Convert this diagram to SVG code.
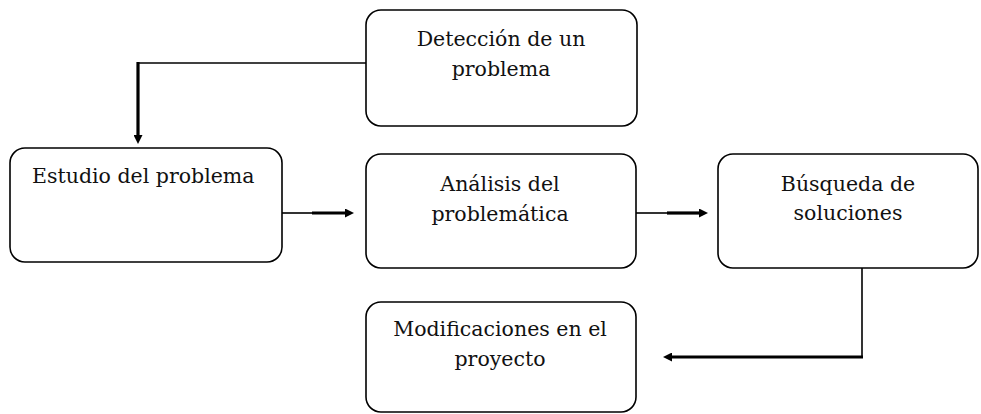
<svg xmlns="http://www.w3.org/2000/svg" width="981" height="414" viewBox="0 0 981 414">
  <style>
    .box { fill: #ffffff; stroke: #000000; stroke-width: 1.6; }
    .lbl { font-family: "DejaVu Serif", "Liberation Serif", serif; font-size: 20.5px; fill: #111111; }
    .mid { text-anchor: middle; }
    .thin { fill: none; stroke: #000000; stroke-width: 1.6; }
    .thick { fill: none; stroke: #000000; stroke-width: 3.2; marker-end: url(#head); }
  </style>
  <defs>
    <marker id="head" viewBox="0 0 10 10" refX="0" refY="5" markerWidth="10" markerHeight="9" markerUnits="userSpaceOnUse" orient="auto">
      <path d="M0,0 L10,5 L0,10 z" fill="#000000"/>
    </marker>
  </defs>
  <rect x="0" y="0" width="981" height="414" fill="#ffffff"/>

  <g id="n-deteccion">
    <rect class="box" x="366" y="10" width="271" height="116" rx="15"/>
    <text class="lbl mid" x="501" y="46">Detección de un</text>
    <text class="lbl mid" x="501" y="76">problema</text>
  </g>
  <g id="n-estudio">
    <rect class="box" x="10" y="148" width="272" height="114" rx="15"/>
    <text class="lbl" x="32" y="183">Estudio del problema</text>
  </g>
  <g id="n-analisis">
    <rect class="box" x="366" y="154" width="270" height="114" rx="15"/>
    <text class="lbl mid" x="500" y="191">Análisis del</text>
    <text class="lbl mid" x="500" y="221">problemática</text>
  </g>
  <g id="n-busqueda">
    <rect class="box" x="718" y="154" width="260" height="114" rx="15"/>
    <text class="lbl mid" x="848" y="191">Búsqueda de</text>
    <text class="lbl mid" x="848" y="220">soluciones</text>
  </g>
  <g id="n-modificaciones">
    <rect class="box" x="366" y="302" width="270" height="110" rx="15"/>
    <text class="lbl mid" x="500" y="336">Modificaciones en el</text>
    <text class="lbl mid" x="500" y="366">proyecto</text>
  </g>

  <g id="connectors">
    <path class="thin" d="M366,63 H137"/>
    <path class="thick" d="M138,62 V135"/>

    <path class="thin" d="M282,213 H312"/>
    <path class="thick" d="M312,213 H345"/>

    <path class="thin" d="M636,213 H667"/>
    <path class="thick" d="M667,213 H699"/>

    <path class="thin" d="M862,268 V357"/>
    <path class="thick" d="M863,357 H672"/>
  </g>
</svg>
